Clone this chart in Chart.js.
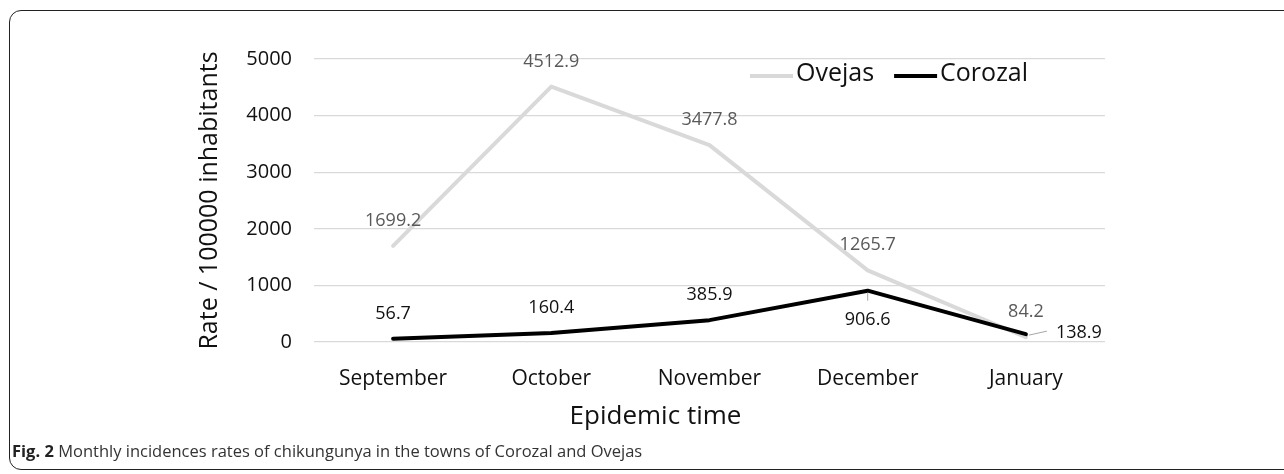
<!DOCTYPE html>
<html>
<head>
<meta charset="utf-8">
<script src="https://cdn.jsdelivr.net/npm/chart.js@4.4.1/dist/chart.umd.min.js"></script>
<style>
  body { margin: 0; background: #fff; }
  #wrap { position: relative; width: 1284px; height: 474px; overflow: hidden; }
  #frame { position: absolute; left: 9px; top: 10px; width: 1300px; height: 460px; border: 1.5px solid #222; border-radius: 12px; box-sizing: border-box; }
  #chartBox { position: absolute; left: 0; top: 0; width: 1284px; height: 474px; }
  #caption { position: absolute; left: 12px; top: 439px; font: 16.5px 'Open Sans', sans-serif; color: #333; white-space: nowrap; }
  #caption b { color: #222; }
</style>
</head>
<body>
<div id="wrap">
  <div id="frame"></div>
  <div id="chartBox"><canvas id="chart"></canvas></div>
  <div id="caption"><b>Fig. 2</b> Monthly incidences rates of chikungunya in the towns of Corozal and Ovejas</div>
</div>
<script>
    // datos
    const months = ['September', 'October', 'November', 'December', 'January'];
    const ovejas = [1699.2, 4512.9, 3477.8, 1265.7, 84.2];
    const corozal = [56.7, 160.4, 385.9, 906.6, 138.9];
    const yTicks = [0, 1000, 2000, 3000, 4000, 5000];

    const FONT = "'Open Sans', sans-serif";

    // etiquetas de valores junto a cada punto
    const valueLabels = {
        id: 'valueLabels',
        afterDatasetsDraw(chart, args, opts) {
            const ctx = chart.ctx;
            ctx.save();
            ctx.font = '18px ' + FONT;
            ctx.textAlign = 'center';
            ctx.textBaseline = 'middle';
            chart.data.datasets.forEach((ds, di) => {
                const meta = chart.getDatasetMeta(di);
                const place = opts.place[di];
                meta.data.forEach((pt, i) => {
                    const txt = ds.data[i].toFixed(1);
                    let x = pt.x, y = pt.y - 25;
                    ctx.strokeStyle = '#a6a6a6';
                    ctx.lineWidth = 1;
                    if (place[i] === 'below') {
                        y = pt.y + 29;
                        ctx.beginPath(); ctx.moveTo(pt.x, pt.y + 2); ctx.lineTo(pt.x, pt.y + 10); ctx.stroke();
                    } else if (place[i] === 'right') {
                        x = pt.x + 53; y = pt.y - 1;
                        ctx.beginPath(); ctx.moveTo(pt.x + 3, pt.y + 1); ctx.lineTo(pt.x + 21, pt.y - 3); ctx.stroke();
                    }
                    ctx.fillStyle = opts.colors[di];
                    ctx.fillText(txt, x, y);
                });
            });
            ctx.restore();
        }
    };

    // leyenda dentro del área del gráfico
    const innerLegend = {
        id: 'innerLegend',
        afterDraw(chart) {
            const ctx = chart.ctx;
            const area = chart.chartArea;
            ctx.save();
            ctx.font = '25px ' + FONT;
            ctx.textBaseline = 'middle';
            let x = area.right - 355;
            const y = 74;
            chart.data.datasets.forEach(ds => {
                ctx.strokeStyle = ds.borderColor;
                ctx.lineWidth = 4;
                ctx.beginPath(); ctx.moveTo(x, y + 2); ctx.lineTo(x + 43, y + 2); ctx.stroke();
                x += 46;
                ctx.fillStyle = '#111';
                ctx.fillText(ds.label, x, y);
                x += ctx.measureText(ds.label).width + 20;
            });
            ctx.restore();
        }
    };

    // título del eje x (desplazado a la izquierda como en el original)
    const xTitle = {
        id: 'xTitle',
        afterDraw(chart) {
            const ctx = chart.ctx;
            const area = chart.chartArea;
            ctx.save();
            ctx.font = '26px ' + FONT;
            ctx.fillStyle = '#111';
            ctx.textAlign = 'center';
            ctx.textBaseline = 'middle';
            ctx.fillText('Epidemic time', (area.left + area.right) / 2 - 54, 417);
            ctx.restore();
        }
    };

    new Chart(document.getElementById('chart'), {
        type: 'line',
        data: {
            labels: months,
            datasets: [{
                label: 'Ovejas',
                data: ovejas,
                borderColor: '#d9d9d9',
                borderWidth: 4,
                order: 1,
            }, {
                label: 'Corozal',
                data: corozal,
                borderColor: '#000000',
                borderWidth: 4,
                order: 0,
            }]
        },
        options: {
            responsive: true,
            maintainAspectRatio: false,
            animation: false,
            layout: { padding: { left: 191, top: 59, right: 179, bottom: 0 } },
            elements: {
                point: { radius: 0 },
                line: { tension: 0, borderCapStyle: 'round', borderJoinStyle: 'round' }
            },
            plugins: {
                legend: { display: false },
                tooltip: { enabled: false },
                valueLabels: {
                    place: [
                        ['above', 'above', 'above', 'above', 'above'],
                        ['above', 'above', 'above', 'below', 'right']
                    ],
                    colors: ['#595959', '#111111']
                }
            },
            scales: {
                x: {
                    offset: true,
                    grid: { display: false, drawTicks: false },
                    border: { display: false },
                    ticks: { color: '#111', font: { family: FONT, size: 21 }, padding: 24 },
                    afterFit(scale) { scale.height = 132; }
                },
                y: {
                    min: yTicks[0],
                    max: yTicks[yTicks.length - 1],
                    grid: { color: '#d9d9d9', lineWidth: 1.3, drawTicks: false },
                    border: { display: false },
                    ticks: {
                        stepSize: yTicks[1] - yTicks[0],
                        color: '#111',
                        font: { family: FONT, size: 20 },
                        padding: 22,
                        callback: v => String(v)
                    },
                    title: { display: true, text: 'Rate / 100000 inhabitants', color: '#111', font: { family: FONT, size: 25 } },
                    afterFit(scale) { scale.width = 123; }
                }
            }
        },
        plugins: [valueLabels, innerLegend, xTitle]
    });
</script>
</body>
</html>
